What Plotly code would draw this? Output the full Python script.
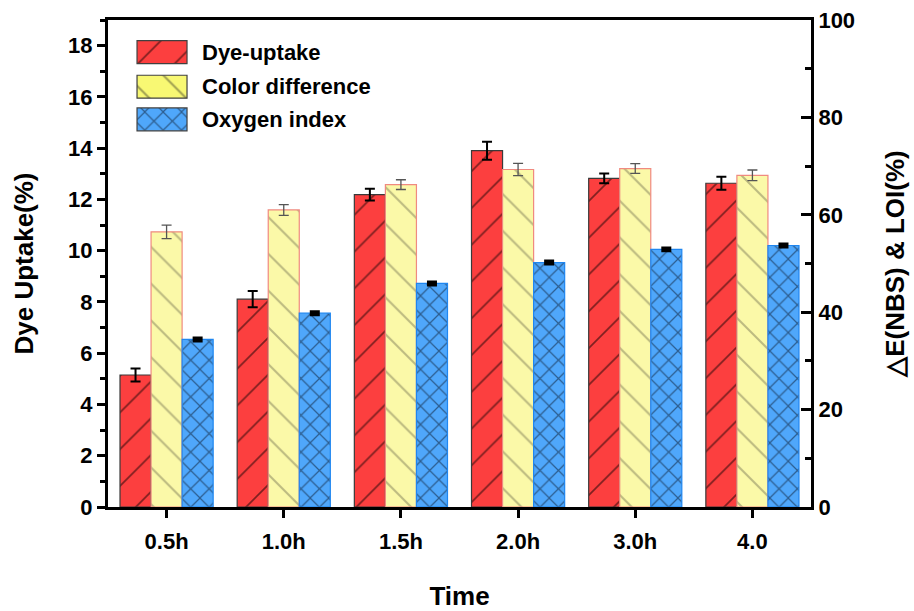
import plotly.graph_objects as go

# Dyeing time categories
times = ["0.5h", "1.0h", "1.5h", "2.0h", "3.0h", "4.0"]

# Dye uptake (%) — left axis
dye_uptake = [5.15, 8.11, 12.19, 13.90, 12.82, 12.63]
dye_uptake_err = [0.25, 0.32, 0.23, 0.35, 0.19, 0.25]

# Colour difference ΔE(NBS) — right axis
color_diff = [56.5, 61.0, 66.2, 69.3, 69.5, 68.1]
color_diff_err = [1.4, 1.1, 1.0, 1.25, 1.0, 1.1]

# Limiting oxygen index (%) — right axis
oxygen_index = [34.4, 39.8, 45.9, 50.2, 52.9, 53.7]
oxygen_index_err = [0.3, 0.3, 0.3, 0.3, 0.3, 0.3]

series_names = ["Dye-uptake", "Color difference", "Oxygen index"]

FONT = "Arial, Liberation Sans, sans-serif"
RED = "#fc3f3f"
YELLOW_BAR = "#fbf9a8"
YELLOW_KEY = "#f8f873"
BLUE = "#4fa7fb"

BAR_W = 0.265
offsets = [-1.5 * BAR_W, -0.5 * BAR_W, 0.5 * BAR_W]

fig = go.Figure()

fig.add_trace(go.Bar(
    x=times, y=dye_uptake, name=series_names[0], yaxis="y",
    width=BAR_W, offset=offsets[0],
    marker=dict(color=RED, line=dict(color="#3a3a3a", width=1.2),
                pattern=dict(shape="/", fgcolor="#000000", bgcolor=RED,
                             size=26, solidity=0.065)),
    error_y=dict(type="data", array=dye_uptake_err, color="#000000",
                 thickness=2, width=5),
    showlegend=False,
))

fig.add_trace(go.Bar(
    x=times, y=color_diff, name=series_names[1], yaxis="y2",
    width=BAR_W, offset=offsets[1],
    marker=dict(color=YELLOW_BAR, line=dict(color="#f08a80", width=1.2),
                pattern=dict(shape="\\", fgcolor="#7d7b58", bgcolor=YELLOW_BAR,
                             size=26, solidity=0.08)),
    error_y=dict(type="data", array=color_diff_err, color="#555555",
                 thickness=1.3, width=5),
    showlegend=False,
))

fig.add_trace(go.Bar(
    x=times, y=oxygen_index, name=series_names[2], yaxis="y2",
    width=BAR_W, offset=offsets[2],
    marker=dict(color=BLUE, line=dict(color="#1f86f0", width=1.2),
                pattern=dict(shape="x", fgcolor="#0a1424", bgcolor=BLUE,
                             size=13, solidity=0.18)),
    error_y=dict(type="data", array=oxygen_index_err, color="#000000",
                 thickness=3, width=5),
    showlegend=False,
))

# Legend key: patterned swatches on an overlay axis with unit ranges
key_rows = [0.934, 0.863, 0.796]
key_fills = [RED, YELLOW_KEY, BLUE]
key_shapes = ["/", "\\", "x"]
key_fg = ["#000000", "#4a4a30", "#0a1424"]
key_sizes = [26, 26, 13]
key_solid = [0.065, 0.08, 0.18]
key_x0, key_len, key_h = 0.0413, 0.0711, 0.047
for i, nm in enumerate(series_names):
    fig.add_trace(go.Bar(
        x=[key_len], y=[key_rows[i]], base=[key_x0], orientation="h",
        width=key_h, xaxis="x3", yaxis="y3", showlegend=False,
        hoverinfo="skip",
        marker=dict(color=key_fills[i], line=dict(color="#404040", width=1.2),
                    pattern=dict(shape=key_shapes[i], fgcolor=key_fg[i],
                                 bgcolor=key_fills[i], size=key_sizes[i],
                                 solidity=key_solid[i])),
    ))
    fig.add_annotation(
        x=0.131, y=key_rows[i], xref="x3", yref="y3", text=nm,
        showarrow=False, xanchor="left", yanchor="middle",
        font=dict(family=FONT, size=22, color="#000000", weight="bold"),
    )

tickfont = dict(family=FONT, size=22, color="#000000", weight="bold")
titlefont = dict(family=FONT, size=26, color="#000000", weight="bold")

fig.update_layout(
    width=914, height=611,
    margin=dict(l=108, r=103, t=20, b=104),
    paper_bgcolor="white", plot_bgcolor="white",
    barmode="overlay",
    showlegend=False,
    xaxis=dict(
        type="category", range=[-0.5, 5.5], automargin=False,
        showline=True, linecolor="#000000", linewidth=3, mirror=True,
        ticks="outside", ticklen=8, tickwidth=2.5, tickcolor="#000000",
        tickfont=tickfont, ticklabelstandoff=5, showgrid=False,
        title=dict(text="Time", font=titlefont, standoff=40),
    ),
    yaxis=dict(
        range=[0, 19], tick0=0, dtick=2, automargin=False,
        showline=True, linecolor="#000000", linewidth=3,
        ticks="outside", ticklen=8, tickwidth=2.5, tickcolor="#000000",
        minor=dict(dtick=1, ticks="outside", ticklen=5, tickwidth=2.5,
                   tickcolor="#000000", showgrid=False),
        tickfont=tickfont, showgrid=False, zeroline=False,
        title=dict(text="Dye Uptake(%)", font=titlefont, standoff=28),
    ),
    yaxis2=dict(
        overlaying="y", side="right", range=[0, 100], tick0=0, dtick=20,
        automargin=False,
        showline=True, linecolor="#000000", linewidth=3,
        ticks="inside", ticklen=10, tickwidth=2.5, tickcolor="#000000",
        minor=dict(dtick=10, ticks="inside", ticklen=6, tickwidth=2.5,
                   tickcolor="#000000", showgrid=False),
        tickfont=tickfont, showgrid=False, zeroline=False,
        title=dict(text="\u25b3E(NBS) & LOI(%)", font=titlefont, standoff=32),
    ),
    xaxis3=dict(overlaying="x", range=[0, 1], visible=False, fixedrange=True),
    yaxis3=dict(overlaying="y", range=[0, 1], visible=False, fixedrange=True),
)

fig.write_html("out.html")
